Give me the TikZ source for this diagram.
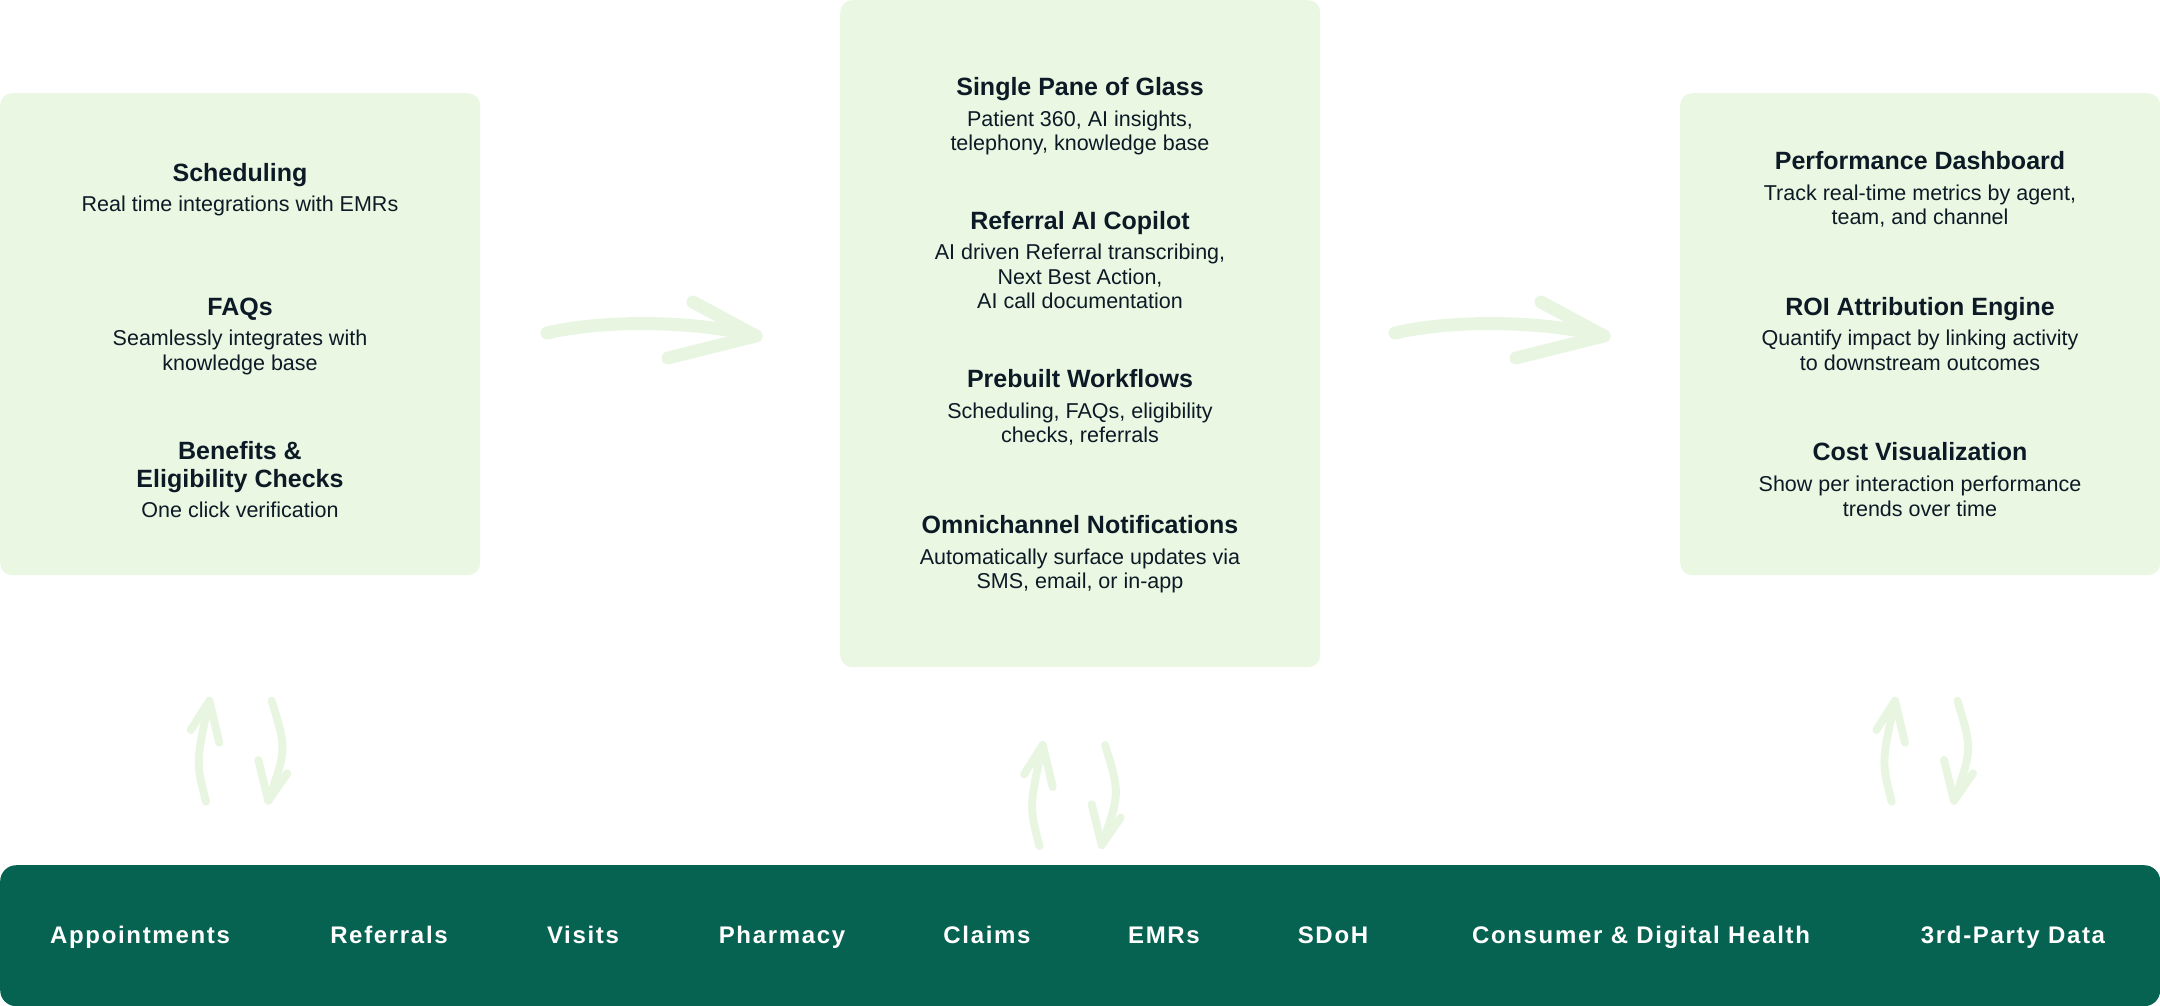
\documentclass[tikz,border=0pt]{standalone}
\usepackage{fontspec}
\setmainfont{Liberation Sans}
\definecolor{boxgreen}{HTML}{EAF7E3}
\definecolor{brushgreen}{HTML}{E8F6E1}
\definecolor{bargreen}{HTML}{066251}
\definecolor{ink}{HTML}{0C1A26}
\begin{document}
\begin{tikzpicture}[x=1pt,y=-1pt,
  panel/.style={fill=boxgreen, draw=none, rounded corners=12pt, inner sep=0pt, anchor=north west},
  ttl/.style={anchor=base, text=ink, inner sep=0pt, font=\fontsize{25}{30}\selectfont\bfseries},
  txt/.style={anchor=base, text=ink, inner sep=0pt, font=\fontsize{21.5}{26}\selectfont},
  barlbl/.style={anchor=base, text=white, inner sep=0pt, font=\fontsize{24}{28}\selectfont\bfseries\addfontfeature{LetterSpace=7}},
  brush/.style={draw=brushgreen, line width=13pt, line cap=round, line join=round},
  thinbrush/.style={draw=brushgreen, line width=8pt, line cap=round, line join=round}]
\useasboundingbox (0,0) rectangle (2160,1006);

% panels
\node[panel, minimum width=480pt, minimum height=482pt] (leftbox) at (0,93) {};
\node[panel, minimum width=480pt, minimum height=667pt] (midbox) at (840,0) {};
\node[panel, minimum width=480pt, minimum height=482pt] (rightbox) at (1680,93) {};
\node[fill=bargreen, draw=none, rounded corners=16pt, inner sep=0pt, anchor=north west,
      minimum width=2160pt, minimum height=141pt] (bar) at (0,865) {};

% left panel texts
\node[ttl] (l1t) at (240,181.7) {Scheduling};
\node[txt] (l1a) at (240,211.7) {Real time integrations with EMRs};
\node[ttl] (l2t) at (240,315.7) {FAQs};
\node[txt] (l2a) at (240,345.7) {Seamlessly integrates with};
\node[txt] (l2b) at (240,370.4) {knowledge base};
\node[ttl] (l3t) at (240,459.7) {Benefits \&};
\node[ttl] (l3u) at (240,487) {Eligibility Checks};
\node[txt] (l3a) at (240,517.7) {One click verification};

% middle panel texts
\node[ttl] (m1t) at (1080,95.8) {Single Pane of Glass};
\node[txt] (m1a) at (1080,126.2) {Patient 360, AI insights,};
\node[txt] (m1b) at (1080,150.5) {telephony, knowledge base};
\node[ttl] (m2t) at (1080,229.4) {Referral AI Copilot};
\node[txt] (m2a) at (1080,259.8) {AI driven Referral transcribing,};
\node[txt] (m2b) at (1080,284) {Next Best Action,};
\node[txt] (m2c) at (1080,308.2) {AI call documentation};
\node[ttl] (m3t) at (1080,387.8) {Prebuilt Workflows};
\node[txt] (m3a) at (1080,418.2) {Scheduling, FAQs, eligibility};
\node[txt] (m3b) at (1080,442.4) {checks, referrals};
\node[ttl] (m4t) at (1080,533.9) {Omnichannel Notifications};
\node[txt] (m4a) at (1080,564.3) {Automatically surface updates via};
\node[txt] (m4b) at (1080,588.5) {SMS, email, or in-app};

% right panel texts
\node[ttl] (r1t) at (1920,169) {Performance Dashboard};
\node[txt] (r1a) at (1920,200) {Track real-time metrics by agent,};
\node[txt] (r1b) at (1920,224) {team, and channel};
\node[ttl] (r2t) at (1920,315.7) {ROI Attribution Engine};
\node[txt] (r2a) at (1920,345.7) {Quantify impact by linking activity};
\node[txt] (r2b) at (1920,370.4) {to downstream outcomes};
\node[ttl] (r3t) at (1920,460.7) {Cost Visualization};
\node[txt] (r3a) at (1920,491.7) {Show per interaction performance};
\node[txt] (r3b) at (1920,516) {trends over time};

% bottom bar labels
\node[barlbl] (b1) at (140,943) {Appointments};
\node[barlbl] (b2) at (389,943) {Referrals};
\node[barlbl] (b3) at (583,943) {Visits};
\node[barlbl] (b4) at (782,943) {Pharmacy};
\node[barlbl] (b5) at (987,943) {Claims};
\node[barlbl] (b6) at (1164,943) {EMRs};
\node[barlbl] (b7) at (1333,943) {SDoH};
\node[barlbl] (b8) at (1641,943) {Consumer \& Digital Health};
\node[barlbl] (b9) at (2013,943) {3rd-Party Data};

% horizontal brush arrows
\foreach \name/\sx in {ha/547, hb/1395}{
  \begin{scope}[shift={(\sx,333)}]
    \coordinate (\name s) at (0,0);
    \coordinate (\name e) at (209,3);
    \coordinate (\name u) at (146,-31);
    \coordinate (\name l) at (121,25);
    \draw[brush] (\name s) .. controls (60,-14) and (150,-12) .. (\name e);
    \draw[brush] (\name u) -- (\name e) -- (\name l);
  \end{scope}
}

% vertical brush arrow pairs
\foreach \name/\px/\py in {va/209.3/700.7, vb/1042.7/745, vc/1895/700.7}{
  \begin{scope}[shift={(\px,\py)}]
    \coordinate (\name us) at (-3.3,101);
    \coordinate (\name ut) at (0,0);
    \coordinate (\name ds) at (62.4,0);
    \coordinate (\name dt) at (59,100);
    \draw[thinbrush] (\name us) .. controls (-13.5,61.5) .. (\name ut);
    \draw[thinbrush] (-18.6,29.3) -- (\name ut) -- (10,42);
    \draw[thinbrush] (\name ds) .. controls (77.3,48.6) .. (\name dt);
    \draw[thinbrush] (49,59.3) -- (\name dt) -- (78,72.6);
  \end{scope}
}
\end{tikzpicture}
\end{document}
